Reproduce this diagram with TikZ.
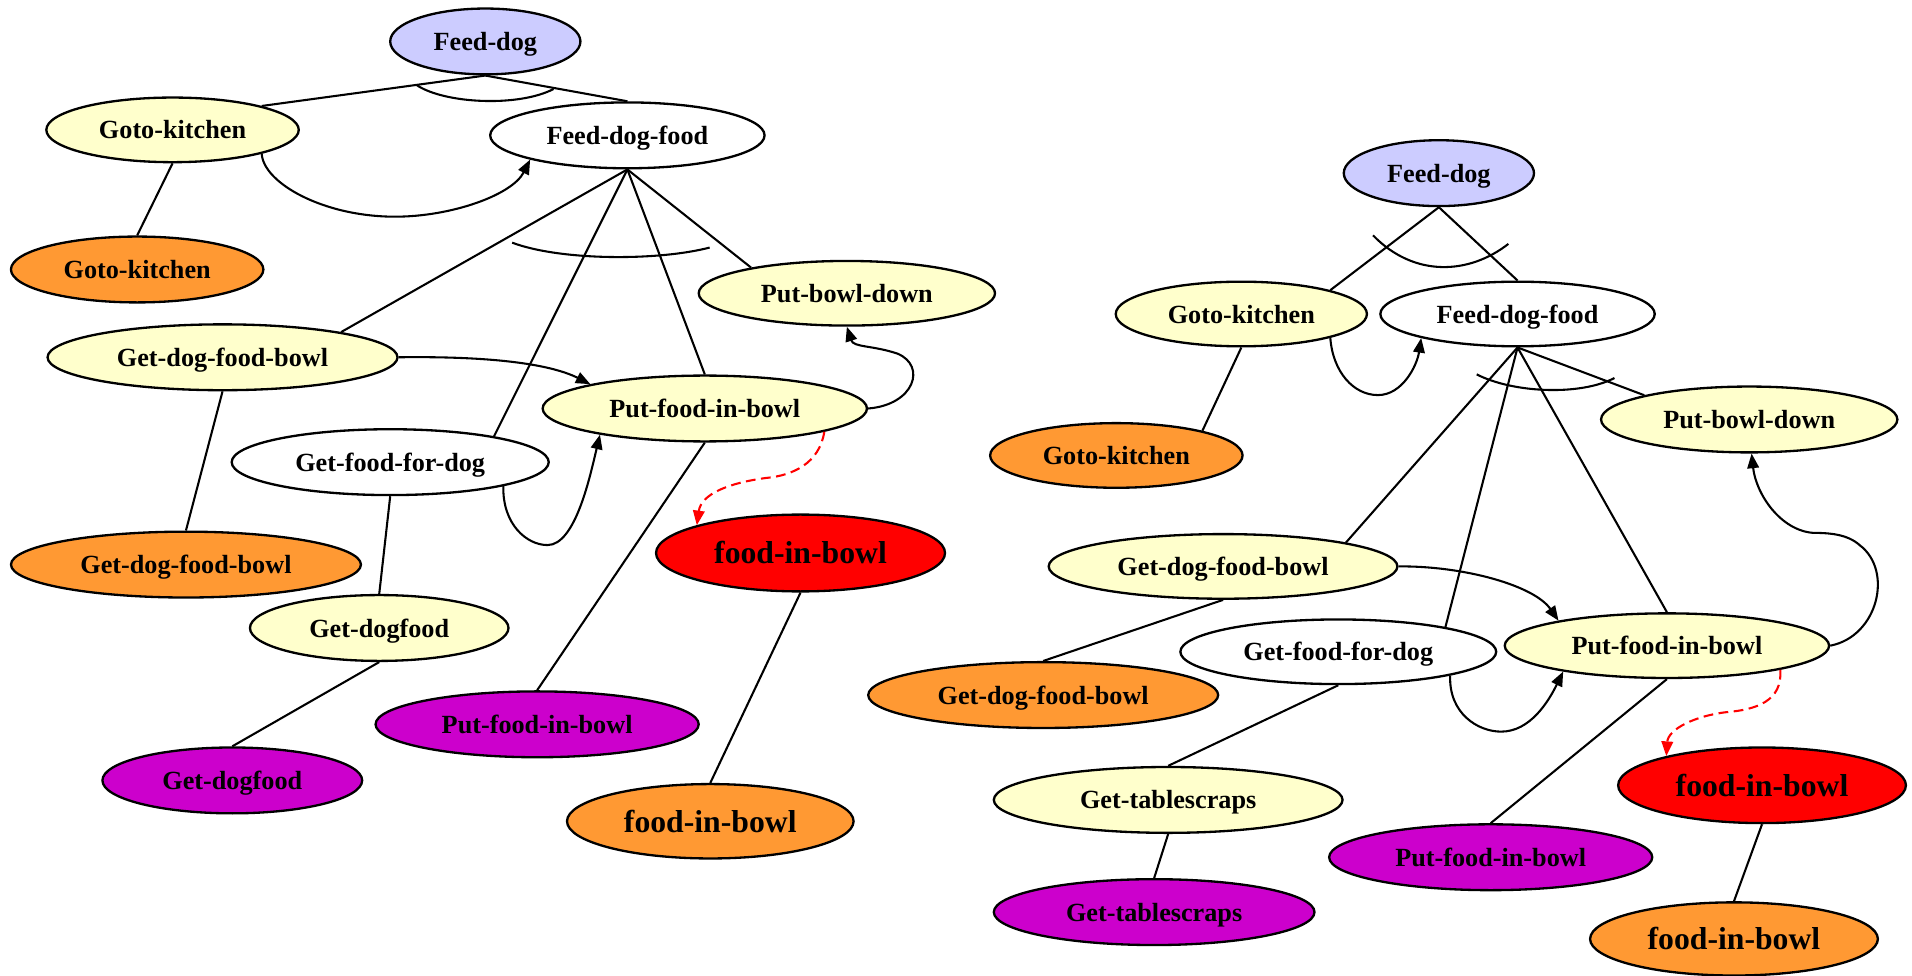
\documentclass[tikz,border=0pt]{standalone}
\usepackage{fontspec}
\setmainfont{Liberation Serif}
\usetikzlibrary{shapes.geometric,arrows.meta}

\definecolor{lav}{HTML}{CCCCFF}
\definecolor{yel}{HTML}{FFFFCC}
\definecolor{org}{HTML}{FF9933}
\definecolor{mag}{HTML}{CC00CC}
\definecolor{hot}{HTML}{FF0000}

\tikzset{
  gnode/.style={ellipse, draw, line width=1.9pt, inner sep=0pt,
    font=\fontsize{21.5}{24}\selectfont\bfseries,
    text height=14.8pt, text depth=0pt},
  bignode/.style={gnode, font=\fontsize{26}{30}\selectfont\bfseries,
    text height=17.8pt, text depth=0pt},
  sz/.style 2 args={minimum width=#1pt, minimum height=#2pt},
  link/.style={line width=1.7pt},
  arr/.style={link, -{Triangle[length=12pt,width=9.5pt]}},
  dsh/.style={link, draw=hot, dash pattern=on 8pt off 4.5pt,
    -{Triangle[length=12pt,width=9.5pt,fill=hot]}},
  andarc/.style={line width=1.7pt}
}

\begin{document}
\begin{tikzpicture}[x=1pt,y=-1pt]
\useasboundingbox (0,0) rectangle (1568,800);

% ---------------- first plan tree ----------------
\node[gnode, fill=lav, sz={156}{54}] (Lfd)    at (398,34)    {Feed-dog};
\node[gnode, fill=yel, sz={207}{53}] (Lgk)    at (141.5,106.5) {Goto-kitchen};
\node[gnode, fill=white, sz={225}{54}] (Lfdf) at (514.5,111) {Feed-dog-food};
\node[gnode, fill=org, sz={207}{54}] (Lgko)   at (112.5,221) {Goto-kitchen};
\node[gnode, fill=yel, sz={243}{53}] (Lpbd)   at (694.5,240.5) {Put-bowl-down};
\node[gnode, fill=yel, sz={287}{54}] (Lgdfb)  at (182.5,293) {Get-dog-food-bowl};
\node[gnode, fill=yel, sz={266}{54}] (Lpfib)  at (578,335)   {Put-food-in-bowl};
\node[gnode, fill=white, sz={260}{54}] (Lgffd) at (320,379)  {Get-food-for-dog};
\node[bignode, fill=hot, sz={237}{63}] (Lfib) at (656.5,453.5) {food-in-bowl};
\node[gnode, fill=org, sz={287}{54}] (Lgdfbo) at (152.5,463) {Get-dog-food-bowl};
\node[gnode, fill=yel, sz={212}{54}] (Lgdf)   at (311,515)   {Get-dogfood};
\node[gnode, fill=mag, sz={265}{54}] (Lpfibp) at (440.5,594) {Put-food-in-bowl};
\node[gnode, fill=mag, sz={213}{54}] (Lgdfp)  at (190.5,640) {Get-dogfood};
\node[bignode, fill=org, sz={235}{61}] (Lfibo) at (582.5,673.5) {food-in-bowl};

% decomposition links
\draw[link] (Lfd.south) -- (Lgk.15);
\draw[link] (Lfd.south) -- (Lfdf.north);
\draw[andarc] (342,70) .. controls (365,85) and (425,88) .. (454,73);
\draw[link] (Lgk.south) -- (Lgko.north);
\draw[link] (Lfdf.south) -- (Lgdfb.12);
\draw[link] (Lfdf.south) -- (Lgffd.14);
\draw[link] (Lfdf.south) -- (Lpfib.north);
\draw[link] (Lfdf.south) -- (Lpbd.165);
\draw[andarc] (420,199) .. controls (460,214) and (540,214) .. (582,203);
\draw[link] (Lgdfb.south) -- (Lgdfbo.north);
\draw[link] (Lgffd.south) -- (Lgdf.north);
\draw[link] (Lgdf.south) -- (Lgdfp.north);
\draw[link] (Lpfib.south) -- (Lpfibp.north);
\draw[link] (Lfib.south) -- (Lfibo.north);

% ordering links
\draw[arr] (Lgk.-15) .. controls (216,150) and (265,177.7) .. (324,177.7)
  .. controls (370,177.7) and (420,160) .. (Lfdf.194);
\draw[arr] (Lgdfb.east) .. controls (400,292) and (450,298) .. (Lpfib.168);
\draw[arr] (Lpfib.east) .. controls (750,332) and (760,300) .. (736,290)
  .. controls (715,283) and (700,285) .. (Lpbd.south);
\draw[arr] (Lgffd.-12) .. controls (412,430) and (432,447) .. (449,447)
  .. controls (472,447) and (484,390) .. (Lpfib.194);
\draw[dsh] (Lpfib.-11) .. controls (672,380) and (650,390) .. (628,392)
  .. controls (598,396) and (575,405) .. (Lfib.165);

% ---------------- second plan tree ----------------
\node[gnode, fill=lav, sz={156}{54}] (Rfd)    at (1180,142)  {Feed-dog};
\node[gnode, fill=yel, sz={206}{53}] (Rgk)    at (1018,257.5) {Goto-kitchen};
\node[gnode, fill=white, sz={225}{53}] (Rfdf) at (1244.5,257.5) {Feed-dog-food};
\node[gnode, fill=org, sz={207}{53}] (Rgko)   at (915.5,373.5) {Goto-kitchen};
\node[gnode, fill=yel, sz={243}{54}] (Rpbd)   at (1434.5,344) {Put-bowl-down};
\node[gnode, fill=yel, sz={286}{53}] (Rgdfb)  at (1003,464.5) {Get-dog-food-bowl};
\node[gnode, fill=white, sz={259}{53}] (Rgffd) at (1097.5,534.5) {Get-food-for-dog};
\node[gnode, fill=yel, sz={266}{53}] (Rpfib)  at (1367,529.5) {Put-food-in-bowl};
\node[gnode, fill=org, sz={287}{54}] (Rgdfbo) at (855.5,570) {Get-dog-food-bowl};
\node[bignode, fill=hot, sz={236}{62}] (Rfib) at (1445,644)  {food-in-bowl};
\node[gnode, fill=yel, sz={286}{54}] (Rgts)   at (958,656)   {Get-tablescraps};
\node[gnode, fill=mag, sz={265}{54}] (Rpfibp) at (1222.5,703) {Put-food-in-bowl};
\node[gnode, fill=mag, sz={263}{54}] (Rgtsp)  at (946.5,748) {Get-tablescraps};
\node[bignode, fill=org, sz={236}{60}] (Rfibo) at (1422,770) {food-in-bowl};

% decomposition links
\draw[link] (Rfd.south) -- (Rgk.15);
\draw[link] (Rfd.south) -- (Rfdf.north);
\draw[andarc] (1126,193) .. controls (1160,228) and (1205,225) .. (1237,200);
\draw[link] (Rgk.south) -- (Rgko.16);
\draw[link] (Rfdf.south) -- (Rpbd.167);
\draw[link] (Rfdf.south) -- (Rgdfb.11);
\draw[link] (Rfdf.south) -- (Rgffd.13);
\draw[link] (Rfdf.south) -- (Rpfib.north);
\draw[andarc] (1211,307) .. controls (1240,322) and (1295,325) .. (1324,310);
\draw[link] (Rgdfb.south) -- (Rgdfbo.north);
\draw[link] (Rgffd.south) -- (Rgts.north);
\draw[link] (Rgts.south) -- (Rgtsp.north);
\draw[link] (Rpfib.south) -- (Rpfibp.north);
\draw[link] (Rfib.south) -- (Rfibo.north);

% ordering links
\draw[arr] (Rgk.-15) .. controls (1093,305) and (1110,324) .. (1130,324)
  .. controls (1150,324) and (1162,300) .. (Rfdf.194);
\draw[arr] (Rgdfb.east) .. controls (1200,464) and (1258,480) .. (Rpfib.167);
\draw[arr] (Rgffd.-12) .. controls (1188,585) and (1212,600) .. (1231,600)
  .. controls (1255,600) and (1270,575) .. (Rpfib.194);
\draw[arr] (Rpfib.east) .. controls (1540,522) and (1553,468) .. (1525,447)
  .. controls (1515,438) and (1500,437) .. (1487,437)
  .. controls (1460,435) and (1440,405) .. (Rpbd.-86);
\draw[dsh] (Rpfib.-12) .. controls (1462,575) and (1440,582) .. (1416,584)
  .. controls (1390,587) and (1368,598) .. (Rfib.163);
\end{tikzpicture}
\end{document}
